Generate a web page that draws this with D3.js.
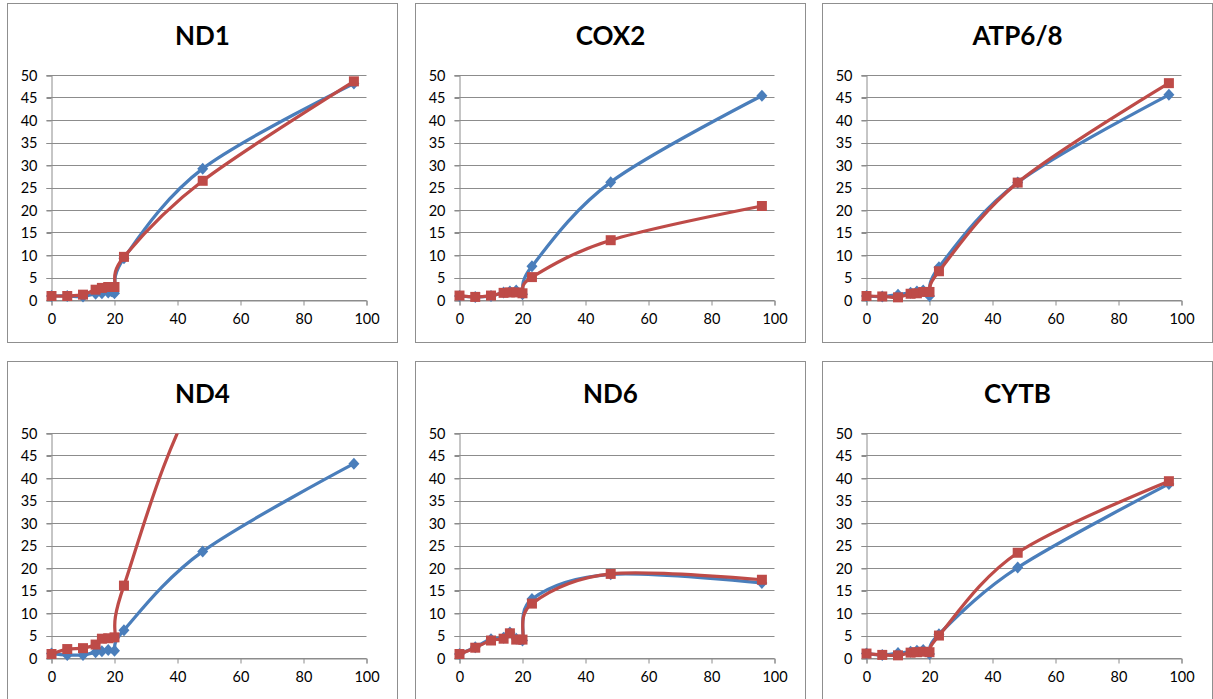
<!DOCTYPE html>
<html>
<head>
<meta charset="utf-8">
<script src="https://cdn.jsdelivr.net/npm/d3@7"></script>
<style>
  body { margin: 0; background: #fff; }
  svg { display: block; font-family: Lato, "Open Sans", sans-serif; }
</style>
</head>
<body>
<svg id="chart" width="1213" height="699"></svg>
<script>
// time points (x) shared by every panel
const xValues = [0, 5, 10, 14, 16, 18, 20, 23, 48, 96];

const genes = ['ND1', 'COX2', 'ATP6/8', 'ND4', 'ND6', 'CYTB'];

// blue series (diamonds)
const blueND1  = [1.0, 1.0, 0.9, 1.5, 1.6, 1.8, 1.6, 9.4, 29.3, 48.2];
const blueCOX2 = [1.0, 0.8, 1.0, 1.8, 2.0, 2.2, 1.4, 7.6, 26.3, 45.5];
const blueATP  = [1.0, 0.9, 1.3, 1.7, 2.0, 2.2, 1.0, 7.4, 26.2, 45.7];
const blueND4  = [1.1, 0.8, 0.8, 1.4, 1.6, 1.9, 1.7, 6.3, 23.8, 43.3];
const blueND6  = [1.0, 2.5, 4.3, 4.6, 5.8, 4.4, 4.0, 13.2, 18.7, 16.8];
const blueCYTB = [1.1, 0.8, 1.2, 1.5, 1.7, 1.9, 1.0, 5.4, 20.2, 38.8];

// red series (squares)
const redND1  = [1.0, 1.0, 1.3, 2.4, 2.8, 3.0, 3.0, 9.7, 26.6, 48.7];
const redCOX2 = [1.1, 0.8, 1.1, 1.7, 1.8, 1.8, 1.6, 5.2, 13.4, 21.0];
const redATP  = [1.0, 0.9, 0.7, 1.5, 1.6, 1.9, 1.9, 6.5, 26.2, 48.3];
const redND4  = [1.0, 2.1, 2.3, 3.1, 4.4, 4.5, 4.7, 16.2, 61.0, 98.0];
const redND6  = [1.0, 2.4, 4.0, 4.4, 5.6, 4.2, 4.2, 12.2, 18.8, 17.5];
const redCYTB = [1.1, 0.8, 0.7, 1.3, 1.4, 1.5, 1.4, 5.1, 23.5, 39.4];

const blueSeries = [blueND1, blueCOX2, blueATP, blueND4, blueND6, blueCYTB];
const redSeries  = [redND1, redCOX2, redATP, redND4, redND6, redCYTB];

const xTicks = [0, 20, 40, 60, 80, 100];
const yTicks = [0, 5, 10, 15, 20, 25, 30, 35, 40, 45, 50];

const blue = '#4a7ebb';
const red = '#be4b48';
const grid = '#8c8c8c';

const panelW = 390;
const panelH = 339;
const panelX = [7, 415, 822];
const panelY = [3, 361];
const plot = { left: 44, right: 359, top: 72, bottom: 297 };

const svg = d3.select('#chart');

const x = d3.scaleLinear().domain([0, 100]).range([plot.left, plot.right]);
const y = d3.scaleLinear().domain([0, 50]).range([plot.bottom, plot.top]);

const line = d3.line()
  .x((d, i) => x(xValues[i]))
  .y(d => y(d))
  .curve(d3.curveCatmullRom.alpha(0));

// points above the y range get no marker
const visible = arr => arr.map((v, i) => ({ x: xValues[i], v })).filter(d => d.v <= 50);

function drawSeries(g, values, color, clipId, marker) {
  g.append('path')
    .datum(values)
    .attr('clip-path', `url(#${clipId})`)
    .attr('d', line)
    .attr('fill', 'none')
    .attr('stroke', color)
    .attr('stroke-width', 3.25);

  const pts = g.append('g')
    .selectAll('path')
    .data(visible(values))
    .enter()
    .append('path')
    .attr('transform', d => `translate(${x(d.x)}, ${y(d.v)})`)
    .attr('d', marker)
    .attr('fill', color);
}

genes.forEach((gene, gi) => {
  const g = svg.append('g')
    .attr('transform', `translate(${panelX[gi % 3] + 0.5}, ${panelY[Math.floor(gi / 3)] + 0.5})`);

  g.append('rect')
    .attr('width', panelW)
    .attr('height', panelH)
    .attr('fill', '#fff')
    .attr('stroke', '#8f8f8f');

  g.append('text')
    .attr('x', panelW / 2)
    .attr('y', 41)
    .attr('text-anchor', 'middle')
    .attr('font-size', 26)
    .attr('font-weight', 'bold')
    .text(gene);

  // gridlines
  g.append('g')
    .selectAll('line')
    .data(yTicks)
    .enter()
    .append('line')
    .attr('x1', plot.left - 5)
    .attr('x2', plot.right)
    .attr('y1', d => Math.round(y(d)))
    .attr('y2', d => Math.round(y(d)))
    .attr('stroke', grid)
    .attr('stroke-width', 1);

  const yAxis = d3.axisLeft(y).tickValues(yTicks).tickSize(5).tickPadding(9);
  const yg = g.append('g').attr('transform', `translate(${plot.left}, 0)`).call(yAxis);

  const xAxis = d3.axisBottom(x).tickValues(xTicks).tickSize(5).tickPadding(8);
  const xg = g.append('g').attr('transform', `translate(0, ${plot.bottom})`).call(xAxis);

  [yg, xg].forEach(a => {
    a.select('.domain').attr('stroke', grid);
    a.selectAll('.tick line').attr('stroke', grid);
    a.selectAll('text')
      .attr('font-family', 'Lato, "Open Sans", sans-serif')
      .attr('font-size', 14.5)
      .attr('fill', '#000');
  });

  const clipId = 'clip' + gi;
  g.append('clipPath')
    .attr('id', clipId)
    .append('rect')
    .attr('x', 0)
    .attr('y', plot.top)
    .attr('width', panelW)
    .attr('height', panelH - plot.top);

  drawSeries(g, blueSeries[gi], blue, clipId, 'M0,-6L5.5,0L0,6L-5.5,0Z');
  drawSeries(g, redSeries[gi], red, clipId, 'M-5,-5H5V5H-5Z');
});
</script>
</body>
</html>
